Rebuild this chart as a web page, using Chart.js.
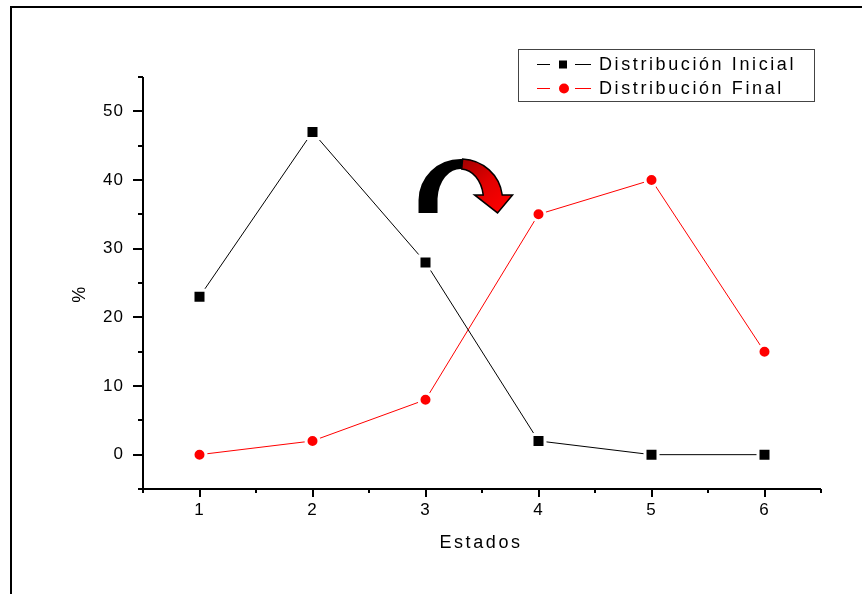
<!DOCTYPE html>
<html>
<head>
<meta charset="utf-8">
<script src="https://cdn.jsdelivr.net/npm/chart.js@4/dist/chart.umd.min.js"></script>
<style>
  html, body { margin: 0; padding: 0; background: #fff; }
  #wrap { width: 862px; height: 594px; position: relative; }
</style>
</head>
<body>
<div id="wrap"><canvas id="c"></canvas></div>
<script>
// Estados (x) and percentage of each distribution (y)
const estados = [1, 2, 3, 4, 5, 6];
const distInicial = [23, 47, 28, 2, 0, 0];
const distFinal = [0, 2, 8, 35, 40, 15];
const yTickLabels = [0, 10, 20, 30, 40, 50];
const xTickLabels = estados;

const FONT = '"Liberation Sans", Arial, Helvetica, sans-serif';
const TICK_SPACING = '1px';
const TEXT_SPACING = '2.6px';

function points(values) {
  return estados.map((e, i) => ({ x: e, y: values[i] }));
}

// Page frame, axes with major/minor ticks, axis titles, legend and the curved arrow
const decorations = {
  id: 'decorations',
  beforeUpdate(chart) { chart.ctx.letterSpacing = TICK_SPACING; },
  beforeDraw(chart) {
    const ctx = chart.ctx;
    ctx.letterSpacing = TICK_SPACING;
    ctx.save();
    ctx.fillStyle = '#fff';
    ctx.fillRect(0, 0, chart.width, chart.height);
    ctx.fillStyle = '#000';
    ctx.fillRect(10, 6, 2, chart.height);
    ctx.fillRect(10, 6, chart.width, 2);
    ctx.restore();
  },
  beforeDatasetsDraw(chart) {
    const ctx = chart.ctx;
    const { left, right, top, bottom } = chart.chartArea;
    const xs = chart.scales.x, ys = chart.scales.y;
    ctx.save();
    ctx.fillStyle = '#000';
    // axis lines
    ctx.fillRect(left - 1, top, 2, bottom - top + 3);
    ctx.fillRect(left - 5, bottom - 1, right - left + 5, 2);
    // y ticks (outward, left)
    ys.ticks.forEach(t => {
      const py = Math.round(ys.getPixelForValue(t.value));
      const len = yTickLabels.includes(t.value) ? 10 : 5;
      ctx.fillRect(left - len, py - 1, len, 2);
    });
    // x ticks (outward, down)
    xs.ticks.forEach(t => {
      const px = Math.round(xs.getPixelForValue(t.value));
      const len = xTickLabels.includes(t.value) ? 8 : 4;
      ctx.fillRect(px - 1, bottom, 2, len);
    });
    ctx.restore();
  },
  afterDatasetsDraw(chart) {
    const ctx = chart.ctx;
    const xs = chart.scales.x, ys = chart.scales.y;
    // curved arrow, anchored in data space between estados 3 and 4
    const cx = xs.getPixelForValue(3.31);
    const cy = ys.getPixelForValue(37.1);
    const oRx = 42, oRy = 41, iRx = 23, iRy = 31;
    const split = 1.5 * Math.PI + 0.05;
    ctx.save();
    // black half
    ctx.beginPath();
    ctx.moveTo(cx - oRx, cy + 13);
    ctx.lineTo(cx - oRx, cy);
    ctx.ellipse(cx, cy, oRx, oRy, 0, Math.PI, split, false);
    ctx.ellipse(cx, cy, iRx, iRy, 0, split, Math.PI, true);
    ctx.lineTo(cx - iRx, cy + 13);
    ctx.closePath();
    ctx.fillStyle = '#000';
    ctx.fill();
    // red half with head
    const oEnd = 2 * Math.PI - Math.asin(5 / oRy);
    const iEnd = 2 * Math.PI - Math.asin(5 / iRy);
    ctx.beginPath();
    ctx.ellipse(cx, cy, oRx, oRy, 0, split, oEnd, false);
    ctx.lineTo(cx + 52, cy - 5);
    ctx.lineTo(cx + 37, cy + 13);
    ctx.lineTo(cx + 14, cy - 5);
    ctx.lineTo(cx + iRx * Math.cos(iEnd), cy - 5);
    ctx.ellipse(cx, cy, iRx, iRy, 0, iEnd, split, true);
    ctx.closePath();
    const g = ctx.createLinearGradient(cx, cy - oRy, cx + 45, cy + 10);
    g.addColorStop(0, '#a00000');
    g.addColorStop(0.5, '#e00000');
    g.addColorStop(1, '#ff0000');
    ctx.fillStyle = g;
    ctx.fill();
    ctx.lineWidth = 1.5;
    ctx.strokeStyle = '#000';
    ctx.stroke();
    ctx.restore();
  },
  afterDraw(chart) {
    const ctx = chart.ctx;
    const { left, right, top, bottom } = chart.chartArea;
    ctx.save();
    ctx.letterSpacing = TEXT_SPACING;
    ctx.fillStyle = '#000';
    // axis titles
    ctx.font = '18px ' + FONT;
    ctx.textAlign = 'center';
    ctx.textBaseline = 'alphabetic';
    ctx.fillText('Estados', (left + right) / 2 - 1, bottom + 59);
    ctx.save();
    ctx.translate(left - 58, 295);
    ctx.rotate(-Math.PI / 2);
    ctx.textBaseline = 'alphabetic';
    ctx.fillText('%', 1.5, 0);
    ctx.restore();

    // legend
    const bx = right - 303, by = top - 28, bw = 296, bh = 52;
    ctx.lineWidth = 1;
    ctx.strokeStyle = '#444';
    ctx.strokeRect(bx + 0.5, by + 0.5, bw, bh);
    ctx.textAlign = 'left';
    ctx.textBaseline = 'middle';
    chart.data.datasets.forEach((ds, i) => {
      const ry = Math.round(by + 15 + i * 24) + 0.5;
      ctx.strokeStyle = ds.borderColor;
      ctx.lineWidth = 1;
      ctx.beginPath();
      ctx.moveTo(bx + 19, ry); ctx.lineTo(bx + 32, ry);
      ctx.moveTo(bx + 57, ry); ctx.lineTo(bx + 73, ry);
      ctx.stroke();
      ctx.fillStyle = ds.pointBackgroundColor;
      if (ds.pointStyle === 'rect') {
        ctx.fillRect(bx + 41, ry - 4, 8, 8);
      } else {
        ctx.beginPath();
        ctx.arc(bx + 46, ry, 5, 0, 2 * Math.PI);
        ctx.fill();
      }
      ctx.fillStyle = '#000';
      ctx.font = '18px ' + FONT;
      ctx.fillText(ds.label, bx + 81, ry + 1);
    });
    ctx.restore();
  }
};

new Chart(document.getElementById('c'), {
  type: 'line',
  data: {
    datasets: [
      {
        label: 'Distribución Inicial',
        data: points(distInicial),
        borderColor: '#000000',
        borderWidth: 1,
        pointStyle: 'rect',
        pointRadius: 9.2,
        pointBackgroundColor: '#000000',
        pointBorderColor: '#ffffff',
        pointBorderWidth: 3,
        tension: 0
      },
      {
        label: 'Distribución Final',
        data: points(distFinal),
        borderColor: '#ff0000',
        borderWidth: 1,
        pointStyle: 'circle',
        pointRadius: 6.5,
        pointBackgroundColor: '#ff0000',
        pointBorderColor: '#ffffff',
        pointBorderWidth: 3,
        tension: 0
      }
    ]
  },
  options: {
    responsive: true,
    maintainAspectRatio: false,
    animation: false,
    events: [],
    clip: false,
    layout: { padding: { left: 0, top: 77, right: 41, bottom: 0 } },
    plugins: { legend: { display: false }, tooltip: { enabled: false }, title: { display: false } },
    scales: {
      x: {
        type: 'linear',
        min: 0.5, max: 6.5,
        grid: { display: false, drawTicks: false },
        border: { display: false },
        afterFit(scale) { scale.height = 105; },
        ticks: {
          stepSize: 0.5,
          autoSkip: false,
          maxRotation: 0,
          padding: 11,
          color: '#000',
          font: { family: FONT, size: 17 },
          callback: v => (xTickLabels.includes(v) ? String(v) : '')
        }
      },
      y: {
        min: -5, max: 55,
        grid: { display: false, drawTicks: false },
        border: { display: false },
        afterFit(scale) { scale.width = 143; },
        ticks: {
          stepSize: 5,
          autoSkip: false,
          padding: 19,
          color: '#000',
          font: { family: FONT, size: 17 },
          callback: v => (yTickLabels.includes(v) ? String(v) : '')
        }
      }
    }
  },
  plugins: [decorations]
});
</script>
</body>
</html>
